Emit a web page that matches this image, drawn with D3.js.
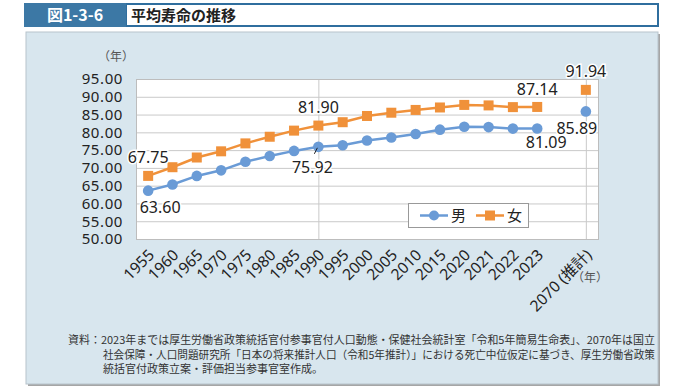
<!DOCTYPE html>
<html>
<head>
<meta charset="utf-8">
<script src="https://cdn.jsdelivr.net/npm/d3@7"></script>
<style>
  body { margin: 0; background: #fff; }
  svg { display: block; font-family: "Noto Sans", "Noto Sans CJK JP", sans-serif; }
  .jp { font-family: "Noto Sans CJK JP", sans-serif; }
</style>
</head>
<body>
<script>
  //chart data
  var years = ["1955", "1960", "1965", "1970", "1975", "1980", "1985", "1990", "1995", "2000", "2005", "2010", "2015", "2020", "2021", "2022", "2023", "", "2070"];
  var male = [63.60, 65.32, 67.74, 69.31, 71.73, 73.35, 74.78, 75.92, 76.38, 77.72, 78.56, 79.55, 80.75, 81.56, 81.47, 81.05, 81.09, null, 85.89];
  var female = [67.75, 70.19, 72.92, 74.66, 76.89, 78.76, 80.48, 81.90, 82.85, 84.60, 85.52, 86.30, 86.99, 87.71, 87.57, 87.09, 87.14, null, 91.94];
  var yTicks = [50, 55, 60, 65, 70, 75, 80, 85, 90, 95];
  var seriesNames = ["男", "女"];
  var footLines = [
    "資料：2023年までは厚生労働省政策統括官付参事官付人口動態・保健社会統計室「令和5年簡易生命表」、2070年は国立",
    "社会保障・人口問題研究所「日本の将来推計人口（令和5年推計）」における死亡中位仮定に基づき、厚生労働省政策",
    "統括官付政策立案・評価担当参事官室作成。"
  ];

  var width = 686, height = 388;
  var blue = "#6a9bd6", orange = "#f0913a", panel = "#d8e6ee";

  var svg = d3.select("body").append("svg")
    .attr("width", width)
    .attr("height", height);

  //title bar
  svg.append("rect").attr("x", 126).attr("y", 4).attr("width", 532).attr("height", 22)
    .attr("fill", "#fff").attr("stroke", "#2f6e9e").attr("stroke-width", 2);
  svg.append("rect").attr("x", 24).attr("y", 3).attr("width", 102).attr("height", 24)
    .attr("fill", "#3c78a5");
  svg.append("text").attr("class", "jp").attr("x", 75).attr("y", 21)
    .attr("text-anchor", "middle").attr("fill", "#fff")
    .attr("font-size", 16).attr("font-weight", "bold").text("図1-3-6");
  svg.append("text").attr("class", "jp").attr("x", 131).attr("y", 20.5)
    .attr("fill", "#222").attr("font-size", 15).attr("font-weight", "bold").text("平均寿命の推移");

  //panel with shadow
  svg.append("rect").attr("x", 28).attr("y", 34).attr("width", 632).attr("height", 352).attr("fill", "#a6a6a6");
  svg.append("rect").attr("x", 26).attr("y", 32).attr("width", 632).attr("height", 352)
    .attr("fill", panel).attr("stroke", "#b8c4cc").attr("stroke-width", 1);

  //scales
  var plot = {left: 136, right: 598, top: 79, bottom: 239};
  var x = d3.scaleBand().domain(years.map(function(d, i){ return i; }))
    .range([plot.left, plot.right]);
  var cx = function(i){ return x(i) + x.bandwidth() / 2; };
  var y = d3.scaleLinear().domain([50, 95]).range([plot.bottom, plot.top]);

  svg.append("rect").attr("x", plot.left).attr("y", plot.top)
    .attr("width", plot.right - plot.left).attr("height", plot.bottom - plot.top)
    .attr("fill", "#fff");

  //gridlines
  svg.append("g").selectAll("line").data(yTicks).enter().append("line")
    .attr("x1", plot.left).attr("x2", plot.right)
    .attr("y1", function(d){ return y(d) + 0.5; }).attr("y2", function(d){ return y(d) + 0.5; })
    .attr("stroke", "#c9c9c9").attr("stroke-width", 1);
  svg.append("g").selectAll("line").data(["1990", "2070"]).enter().append("line")
    .attr("x1", function(d){ return cx(years.indexOf(d)) + 0.5; })
    .attr("x2", function(d){ return cx(years.indexOf(d)) + 0.5; })
    .attr("y1", plot.top).attr("y2", plot.bottom)
    .attr("stroke", "#c9c9c9").attr("stroke-width", 1);
  svg.append("rect").attr("x", plot.left + 0.5).attr("y", plot.top + 0.5)
    .attr("width", plot.right - plot.left).attr("height", plot.bottom - plot.top)
    .attr("fill", "none").attr("stroke", "#bdbdbd");

  //y axis
  var yAxis = d3.axisLeft(y).tickValues(yTicks).tickFormat(d3.format(".2f")).tickSize(0).tickPadding(13);
  var yg = svg.append("g").attr("transform", "translate(" + plot.left + ",0)").call(yAxis);
  yg.select(".domain").remove();
  yg.selectAll("text").attr("font-size", 15).attr("fill", "#222")
    .attr("letter-spacing", 0.6)
    .attr("font-family", "'Noto Sans', sans-serif");

  //x axis
  var xAxis = d3.axisBottom(x).tickSize(0)
    .tickFormat(function(i){ return years[i] == "2070" ? "2070 (推計)" : years[i]; });
  var xg = svg.append("g").attr("transform", "translate(0," + plot.bottom + ")").call(xAxis);
  xg.select(".domain").remove();
  xg.selectAll("text")
    .attr("font-size", 15.5).attr("fill", "#222")
    .attr("font-family", "'Noto Sans', 'Noto Sans CJK JP', sans-serif")
    .attr("text-anchor", "end")
    .attr("y", 0).attr("dy", 0)
    .attr("transform", "translate(7,17) rotate(-45)");

  //unit labels
  svg.append("text").attr("class", "jp").attr("x", 116).attr("y", 61).attr("text-anchor", "middle")
    .attr("font-size", 12).attr("fill", "#555").text("（年）");
  svg.append("text").attr("class", "jp").attr("x", 590).attr("y", 282).attr("text-anchor", "middle")
    .attr("font-size", 12).attr("fill", "#555").text("（年）");

  //lines and markers
  var line = d3.line()
    .defined(function(d){ return d != null; })
    .x(function(d, i){ return cx(i); })
    .y(function(d){ return y(d); });

  function drawSeries(vals, color, shape){
    var main = vals.map(function(d, i){ return i < 17 ? d : null; });
    svg.append("path").datum(main).attr("d", line)
      .attr("fill", "none").attr("stroke", color).attr("stroke-width", 2.5);
    var pts = vals.map(function(d, i){ return {v: d, i: i}; }).filter(function(d){ return d.v != null; });
    if (shape == "circle"){
      svg.append("g").selectAll("circle").data(pts).enter().append("circle")
        .attr("cx", function(d){ return cx(d.i); }).attr("cy", function(d){ return y(d.v); })
        .attr("r", 5.3).attr("fill", color);
    } else {
      svg.append("g").selectAll("rect").data(pts).enter().append("rect")
        .attr("x", function(d){ return cx(d.i) - 5; }).attr("y", function(d){ return y(d.v) - 5; })
        .attr("width", 10).attr("height", 10).attr("fill", color);
    }
  }
  drawSeries(male, blue, "circle");
  drawSeries(female, orange, "square");

  //data labels
  function label(vals, key, dx, dy){
    var i = years.indexOf(key);
    svg.append("text")
      .attr("x", cx(i) + dx).attr("y", y(vals[i]) + dy)
      .attr("text-anchor", "middle").attr("dy", "0.35em")
      .attr("font-size", 16).attr("fill", "#222")
      .attr("stroke", "#fff").attr("stroke-width", 3).attr("paint-order", "stroke")
      .text(vals[i].toFixed(2));
  }
  label(female, "1955", 0, -18);
  label(male, "1955", 12, 17);
  label(female, "1990", 0, -18);
  label(male, "1990", -6, 21);
  label(female, "2023", 0, -18);
  label(male, "2023", 9, 14);
  label(female, "2070", 0, -18);
  label(male, "2070", -9, 17);
  //leader for 75.92
  var i90 = years.indexOf("1990");
  svg.append("line")
    .attr("x1", cx(i90) - 4).attr("y1", y(male[i90]) + 7)
    .attr("x2", cx(i90) - 1).attr("y2", y(male[i90]) + 1)
    .attr("stroke", "#222").attr("stroke-width", 1);

  //legend
  var lg = svg.append("g").attr("transform", "translate(408,203)");
  lg.append("rect").attr("x", 0.5).attr("y", 0.5).attr("width", 120).attr("height", 24)
    .attr("fill", "#fff").attr("stroke", "#999");
  [blue, orange].forEach(function(c, k){
    var ox = 12 + k * 56;
    lg.append("line").attr("x1", ox).attr("x2", ox + 28).attr("y1", 12.5).attr("y2", 12.5)
      .attr("stroke", c).attr("stroke-width", 2.5);
    if (k == 0){
      lg.append("circle").attr("cx", ox + 14).attr("cy", 12.5).attr("r", 5).attr("fill", c);
    } else {
      lg.append("rect").attr("x", ox + 9).attr("y", 7.5).attr("width", 10).attr("height", 10).attr("fill", c);
    }
    lg.append("text").attr("class", "jp").attr("x", ox + 31).attr("y", 18)
      .attr("font-size", 15).attr("fill", "#222").text(seriesNames[k]);
  });

  //source note
  var footX = [68, 103, 103];
  var footLen = [587, 552, null];
  var foot = svg.append("g").selectAll("text").data(footLines).enter().append("text")
    .attr("class", "jp")
    .attr("x", function(d, i){ return footX[i]; })
    .attr("y", function(d, i){ return 344 + i * 14.5; })
    .attr("font-size", 11).attr("fill", "#333")
    .text(function(d){ return d; });
  foot.filter(function(d, i){ return footLen[i] != null; })
    .attr("textLength", function(d, i){ return footLen[i]; })
    .attr("lengthAdjust", "spacingAndGlyphs");
</script>
</body>
</html>
